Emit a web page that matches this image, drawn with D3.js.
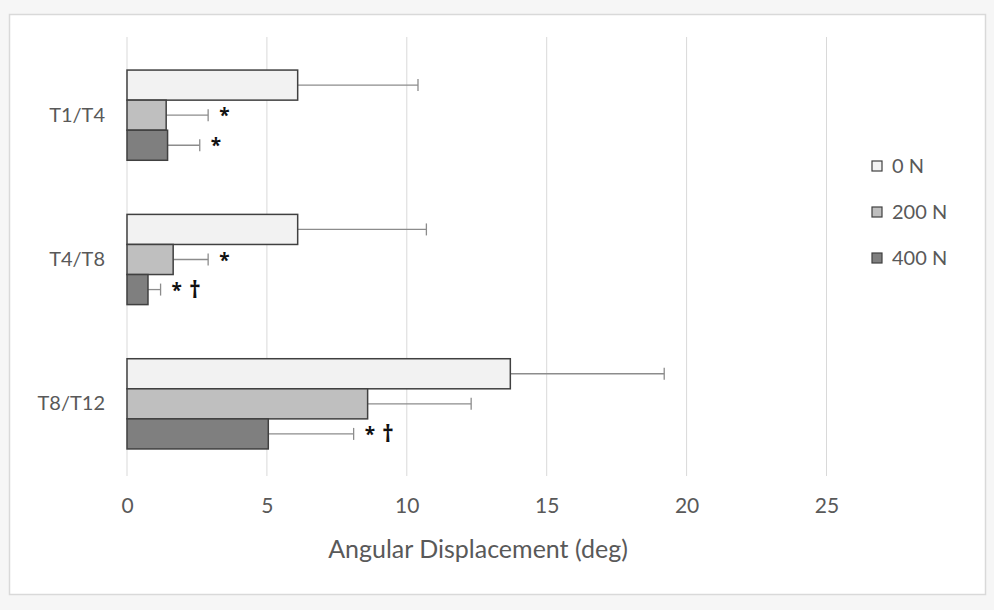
<!DOCTYPE html>
<html>
<head>
<meta charset="utf-8">
<script src="https://cdnjs.cloudflare.com/ajax/libs/d3/7.8.5/d3.min.js"></script>
<style>
  body { margin: 0; background: #f6f6f6; }
  text { font-family: Lato, sans-serif; }
</style>
</head>
<body>
<script>
(function () {

// data
var categories = ["T1/T4", "T4/T8", "T8/T12"];
var seriesNames = ["0 N", "200 N", "400 N"];
var means0 = [6.1, 6.1, 13.7];
var means200 = [1.4, 1.65, 8.6];
var means400 = [1.45, 0.75, 5.05];
var err0 = [4.3, 4.6, 5.5];
var err200 = [1.5, 1.25, 3.7];
var err400 = [1.15, 0.45, 3.05];
var marks200 = ["*", "*", ""];
var marks400 = ["*", "* \u2020", "* \u2020"];
var xTicks = [0, 5, 10, 15, 20, 25];

var colors = ["#f2f2f2", "#bfbfbf", "#7f7f7f"];

var width = 994;
var height = 610;

var svg = d3.select("body")
  .append("svg")
    .attr("width", width)
    .attr("height", height);

// white card
svg.append("rect")
  .attr("x", 9.5).attr("y", 14.5)
  .attr("width", 976).attr("height", 580)
  .attr("fill", "#fff")
  .attr("stroke", "#d9d9d9")
  .attr("stroke-width", 1.5);

var x = d3.scaleLinear().domain([0, 25]).range([127, 826.5]);
var y = d3.scaleBand().domain(categories).range([43, 476]).paddingInner(0.375).paddingOuter(0.1875);
var ySub = d3.scaleBand().domain(seriesNames).range([0, y.bandwidth()]);

// gridlines
svg.selectAll(".grid")
  .data(xTicks)
  .enter()
  .append("line")
  .attr("class", "grid")
  .attr("x1", function(d){ return x(d); })
  .attr("x2", function(d){ return x(d); })
  .attr("y1", 37)
  .attr("y2", 476)
  .attr("stroke", "#d9d9d9")
  .attr("stroke-width", 1);

// x axis labels
var xAxis = d3.axisBottom(x).tickValues(xTicks).tickSize(0).tickPadding(0);
var gx = svg.append("g")
  .attr("transform", "translate(0,498)")
  .call(xAxis);
gx.select(".domain").remove();
gx.selectAll("text")
  .attr("dy", "0.71em")
  .style("font-size", "21px")
  .style("font-family", "Lato, sans-serif")
  .attr("fill", "#595959");

// y axis labels
var yAxis = d3.axisLeft(y).tickSize(0).tickPadding(0);
var gy = svg.append("g")
  .attr("transform", "translate(105,0)")
  .call(yAxis);
gy.select(".domain").remove();
gy.selectAll("text")
  .style("font-size", "20px")
  .style("font-family", "Lato, sans-serif")
  .attr("fill", "#595959");

var rows = [];
categories.forEach(function(c, i){
  rows.push({cat: c, s: seriesNames[0], v: means0[i], e: err0[i], m: "", col: colors[0]});
  rows.push({cat: c, s: seriesNames[1], v: means200[i], e: err200[i], m: marks200[i], col: colors[1]});
  rows.push({cat: c, s: seriesNames[2], v: means400[i], e: err400[i], m: marks400[i], col: colors[2]});
});

function rowY(d){ return y(d.cat) + ySub(d.s); }

// error bars (drawn first so bars overlap the stem start)
var err = svg.selectAll(".err")
  .data(rows)
  .enter()
  .append("g")
  .attr("class", "err");
err.append("line")
  .attr("x1", function(d){ return x(d.v); })
  .attr("x2", function(d){ return x(d.v + d.e); })
  .attr("y1", function(d){ return rowY(d) + ySub.bandwidth() / 2; })
  .attr("y2", function(d){ return rowY(d) + ySub.bandwidth() / 2; })
  .attr("stroke", "#8c8c8c")
  .attr("stroke-width", 1.3);
err.append("line")
  .attr("x1", function(d){ return x(d.v + d.e); })
  .attr("x2", function(d){ return x(d.v + d.e); })
  .attr("y1", function(d){ return rowY(d) + ySub.bandwidth() / 2 - 6; })
  .attr("y2", function(d){ return rowY(d) + ySub.bandwidth() / 2 + 6; })
  .attr("stroke", "#8c8c8c")
  .attr("stroke-width", 1.3);

// bars
svg.selectAll(".bar")
  .data(rows)
  .enter()
  .append("rect")
  .attr("class", "bar")
  .attr("x", x(0))
  .attr("y", function(d){ return rowY(d); })
  .attr("width", function(d){ return x(d.v) - x(0); })
  .attr("height", ySub.bandwidth())
  .attr("fill", function(d){ return d.col; })
  .attr("stroke", "#404040")
  .attr("stroke-width", 1.5);

// significance marks: asterisk, then a taller dagger
var mark = svg.selectAll(".mark")
  .data(rows.filter(function(d){ return d.m !== ""; }))
  .enter()
  .append("text")
  .attr("class", "mark")
  .attr("x", function(d){ return x(d.v + d.e) + 11; })
  .attr("y", function(d){ return rowY(d) + ySub.bandwidth() / 2 + 7; })
  .style("font-family", "'Open Sans', sans-serif")
  .style("font-weight", "bold")
  .attr("fill", "#111");
mark.append("tspan")
  .style("font-size", "19px")
  .text(function(d){ return d.m.split(" ")[0]; });
mark.filter(function(d){ return d.m.indexOf("\u2020") >= 0; })
  .append("tspan")
  .attr("dx", 7)
  .attr("dy", 1)
  .style("font-size", "23px")
  .text("\u2020");

// axis title
svg.append("text")
  .attr("x", 478)
  .attr("y", 558)
  .attr("text-anchor", "middle")
  .style("font-size", "25px")
  .attr("fill", "#595959")
  .text("Angular Displacement (deg)");

// legend
var legend = svg.selectAll(".legend")
  .data(seriesNames)
  .enter()
  .append("g")
  .attr("class", "legend")
  .attr("transform", function(d, i){ return "translate(872," + (161 + i * 46) + ")"; });
legend.append("rect")
  .attr("width", 10)
  .attr("height", 10)
  .attr("fill", function(d, i){ return colors[i]; })
  .attr("stroke", "#404040")
  .attr("stroke-width", 1.2);
legend.append("text")
  .attr("x", 20)
  .attr("y", 12)
  .style("font-size", "20px")
  .attr("fill", "#595959")
  .text(function(d){ return d; });

}());
</script>
</body>
</html>
